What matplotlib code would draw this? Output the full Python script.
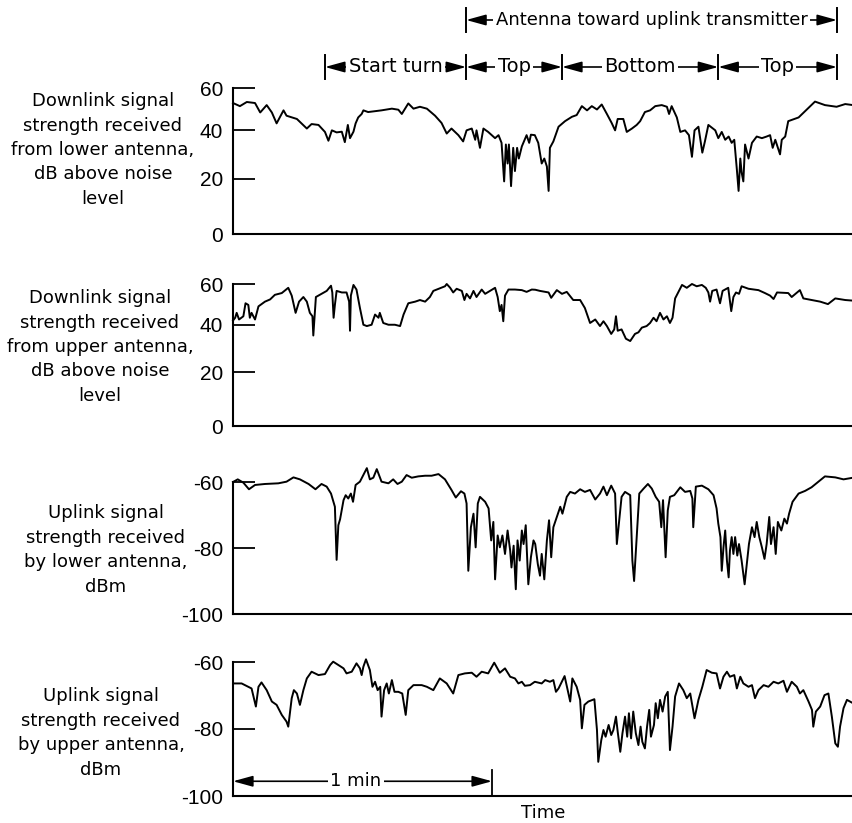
import numpy as np
import matplotlib
matplotlib.use('Agg')
import matplotlib.pyplot as plt
from matplotlib.transforms import blended_transform_factory

plt.rcParams['font.family'] = ['DejaVu Sans']

# ---------------- data (time in seconds, read from the record) ----------------
t_down_lower = [0.0, 1.6, 3.2, 5.1, 6.3, 7.8, 9.0, 10.1, 11.7, 12.4, 14.8, 17.1, 18.2, 19.8, 21.3, 22.1,
                22.9, 24.0, 25.2, 25.9, 26.6, 27.1, 27.9, 28.4, 29.0, 29.8, 30.2, 31.3, 34.4, 36.8, 38.3,
                39.1, 40.6, 41.8, 43.3, 44.9, 46.8, 48.3, 49.5, 50.6, 52.2, 53.3, 54.1, 55.3, 56.1, 56.4,
                57.2, 58.0, 59.1, 60.7, 61.5, 62.2, 62.8, 63.2, 63.6, 63.9, 64.4, 64.9, 65.3, 65.8, 66.2,
                66.9, 68.0, 68.6, 69.0, 69.9, 70.7, 71.5, 72.1, 72.7, 73.1, 73.4, 74.2, 75.4, 76.9, 78.5,
                79.6, 80.8, 82.0, 83.1, 84.3, 85.4, 86.6, 87.7, 88.5, 89.1, 90.4, 91.2, 92.4, 93.5, 94.3,
                95.4, 96.6, 97.8, 99.3, 100.5, 101.0, 101.6, 102.8, 103.6, 104.7, 105.6, 106.3, 106.9,
                107.8, 108.7, 109.3, 110.1, 111.7, 112.4, 113.2, 114.0, 114.8, 115.5, 116.1, 116.7, 117.1,
                117.5, 117.8, 118.2, 118.6, 119.4, 120.2, 121.3, 122.5, 123.6, 124.4, 125.0, 125.6, 126.7,
                127.1, 127.9, 128.6, 131.0, 134.8, 137.1, 139.8, 141.8, 143.6]
v_down_lower = [52.5, 51, 53, 52.5, 48, 51.5, 48, 43, 49, 46.5, 45, 40.7, 42.7, 42.3, 39.2, 35.4,
                39.9, 39, 39.3, 34.8, 42.3, 36.5, 39.3, 43, 45.7, 47.3, 49, 48.2, 49, 49.8, 49.3,
                47.3, 52.3, 49.8, 50.7, 49.8, 46.5, 43.2, 38.5, 40.7, 37.8, 35.1, 39.9, 40.7, 35.8, 39.9,
                32.4, 40.7, 39.2, 36.5, 37.8, 34.5, 19, 33.8, 26, 33.8, 17.2, 32.4, 23, 32.4, 28,
                33, 37.8, 34.5, 38, 37.8, 34.5, 26, 28, 24.8, 15.4, 32.4, 35.1, 41.5, 44, 46,
                46.8, 51, 49, 51, 49.4, 51.8, 47.3, 43.2, 39.9, 45, 45, 39.2, 40.7, 42.3, 44,
                48.2, 49, 51, 51.5, 50.7, 47.3, 51, 45.7, 39.2, 39.9, 37.8, 28.7, 39.9,
                41.5, 30.4, 35.1, 42.3, 39.9, 36.5, 39.2, 35.8, 37.2, 34.5, 35.8, 23.6, 15.4,
                28, 22.5, 19, 33.8, 28, 34.5, 37.2, 36.5, 37.2, 37.8, 32.4, 35.8, 29.7,
                35.8, 37.2, 44, 45.7, 53.2, 51.5, 50.7, 52, 51.5]

t_down_upper = [0.0, 0.5, 0.85, 1.4, 2.4, 2.9, 3.55, 3.9, 4.3, 5.1, 5.9, 7.4, 8.6, 9.7, 11.3, 12.8, 13.6,
                14.5, 15.3, 16.3, 17.1, 17.8, 18.4, 18.6, 19.2, 20.5, 21.7, 22.7, 23.0, 23.3, 23.6, 24.0,
                25.2, 26.3, 26.9, 27.1, 27.3, 27.9, 28.6, 29.4, 30.2, 31.0, 32.1, 32.9, 33.7, 34.0, 34.8,
                36.0, 37.5, 38.7, 39.5, 40.6, 42.2, 43.3, 44.5, 45.6, 46.4, 47.9, 49.1, 49.5, 50.3, 51.0,
                51.8, 53.0, 53.6, 54.1, 54.9, 55.7, 56.4, 57.6, 58.4, 59.5, 60.7, 61.3, 61.8, 62.2, 62.6,
                63.0, 63.8, 65.3, 66.9, 68.0, 69.2, 70.0, 71.1, 73.1, 73.7, 75.0, 76.2, 77.3, 78.8, 80.4,
                81.5, 82.7, 83.9, 85.0, 85.8, 86.6, 87.6, 88.3, 88.7, 89.1, 90.0, 91.0, 92.0, 93.1, 93.9,
                94.7, 95.8, 96.6, 97.4, 98.1, 98.9, 99.7, 100.5, 101.2, 101.8, 102.4, 104.0, 105.1, 106.3,
                107.4, 108.6, 109.5, 110.1, 110.5, 111.0, 112.0, 112.8, 113.4, 114.7, 115.4, 115.9, 116.5,
                117.2, 117.8, 119.4, 121.7, 123.2, 124.4, 125.2, 126.0, 128.6, 129.4, 131.3, 132.1, 134.0,
                136.0, 137.8, 139.5, 141.8, 143.6]
v_down_upper = [42, 43.3, 45.6, 42.5, 44, 50.2, 49.4, 43.3, 45.6, 42.5, 48.7, 51, 52.1, 54.4, 55.3, 58, 54,
                45.6, 51, 53.3, 51, 45.6, 44, 35.3, 53.3, 54.9, 56.4, 59.1, 55.6, 43.3, 49.4, 56.4,
                55.6, 55.6, 51, 37.4, 54, 59.5, 57.1, 47.9, 40.1, 39.5, 40.1, 44.8, 43.3, 45.6, 40.9,
                40.1, 40.1, 39.5, 44.8, 50.2, 51, 51.8, 51, 53.3, 56.4, 57.7, 58.8, 60, 58, 55.6,
                57.5, 56.4, 51.8, 54.9, 52.6, 56.4, 53.3, 57.1, 54.9, 56.4, 58, 53.3, 46.4, 49.4, 41.7,
                54, 57.1, 57.1, 56.8, 55.9, 57.1, 57, 56.4, 55.6, 52.9, 56.8, 54.9, 55.9, 51.8, 51.8,
                47.9, 40.9, 42.5, 39.5, 41.7, 39.5, 36, 38, 44, 37.4, 38, 33.9, 32.9, 36, 36.7,
                38.8, 39.5, 40.9, 43.3, 41.7, 45.6, 42.5, 44, 40.9, 43.3, 52.6, 59.5, 58, 60,
                58.8, 59.5, 58, 55.6, 51, 56.4, 57.1, 50.2, 56.4, 58, 46.4, 53.3, 55.6,
                54.9, 58.8, 57.5, 56.8, 55.3, 54, 52.3, 55.6, 55.3, 53.3, 56.8, 52.6, 51.8,
                51, 49.8, 52.6, 51.8, 51.5]

t_up_lower = [0.0, 1.1, 2.4, 3.7, 5.1, 7.4, 10.5, 12.4, 14.0, 15.5, 17.5, 19.1, 20.5, 21.7, 22.7, 23.6,
              24.0, 24.4, 24.8, 25.6, 26.1, 26.7, 27.3, 27.8, 28.4, 29.4, 30.4, 31.0, 31.7, 32.5, 33.3,
              34.4, 36.0, 37.1, 38.1, 39.1, 40.2, 41.4, 42.9, 44.5, 46.0, 47.6, 49.1, 50.6, 51.6, 52.8,
              53.6, 54.1, 54.5, 55.1, 55.7, 56.2, 56.7, 57.2, 58.4, 59.2, 59.8, 60.3, 60.7, 61.3, 61.8,
              62.4, 63.0, 63.6, 64.2, 64.5, 65.0, 65.5, 65.9, 66.4, 66.9, 67.3, 67.8, 68.4, 69.0, 69.6,
              70.0, 70.6, 71.1, 71.5, 72.1, 72.7, 73.2, 73.7, 74.2, 75.0, 75.8, 76.3, 77.3, 78.1, 79.2,
              80.4, 81.5, 82.7, 83.9, 85.0, 85.8, 86.6, 87.6, 88.5, 88.9, 89.3, 90.0, 90.8, 92.0, 92.5,
              92.9, 93.4, 94.1, 95.1, 96.1, 97.0, 97.9, 98.7, 99.2, 99.6, 100.2, 100.7, 101.2, 102.2,
              103.6, 104.7, 105.9, 106.4, 106.6, 107.2, 108.6, 110.1, 111.3, 112.0, 112.4, 112.9, 113.2,
              113.6, 114.0, 114.4, 114.8, 115.1, 115.5, 115.9, 116.3, 116.8, 117.2, 117.8, 118.5, 119.0,
              119.5, 120.2, 120.8, 121.3, 121.9, 122.5, 123.1, 123.6, 124.2, 124.6, 125.2, 125.7, 126.2,
              127.0, 127.7, 128.3, 128.8, 129.6, 131.0, 132.5, 134.0, 135.6, 137.1, 139.5, 141.4, 143.6]
v_up_lower = [-60.0, -59.2, -60.2, -62.2, -60.9, -60.6, -60.4, -59.9, -58.6, -59.2, -60.6, -62.2, -60.6,
              -61.4, -63.5, -67.5, -83.6, -73.1, -71.3, -65.5, -64.0, -65.0, -63.5, -66.0, -60.9, -59.9,
              -57.3, -55.8, -59.2, -58.7, -56.1, -59.9, -60.4, -59.2, -60.6, -59.9, -57.9, -58.7, -58.3,
              -58.1, -58.1, -57.6, -59.2, -62.4, -64.7, -62.8, -63.5, -66.5, -86.9, -73.7, -69.6, -79.8,
              -66.5, -64.5, -66.0, -68.0, -77.7, -72.1, -89.5, -76.2, -79.8, -76.2, -81.8, -74.7, -80.8,
              -85.9, -79.3, -92.5, -77.7, -83.8, -74.7, -78.8, -73.1, -91.0, -82.8, -77.7, -78.8, -84.9,
              -88.4, -81.8, -89.5, -77.7, -71.6, -82.8, -73.7, -70.6, -67.5, -69.6, -64.5, -63.0, -63.5,
              -62.2, -63.0, -62.4, -65.3, -63.5, -61.4, -64.0, -61.1, -63.5, -78.8, -73.7, -64.5, -63.0,
              -64.0, -83.8, -90.0, -78.8, -63.5, -62.0, -60.6, -62.0, -64.5, -66.0, -73.7, -65.5, -82.8,
              -68.6, -64.5, -64.0, -61.6, -63.0, -62.7, -65.0, -73.7, -61.4, -61.1, -62.2, -64.0, -68.0,
              -72.6, -76.7, -86.9, -79.8, -74.7, -83.8, -88.9, -80.8, -76.7, -81.8, -76.7, -82.3, -78.8,
              -83.8, -91.0, -84.9, -78.8, -73.7, -76.7, -72.1, -76.7, -79.8, -83.3, -78.8, -70.6, -78.8,
              -73.7, -81.8, -72.1, -74.7, -71.1, -72.6, -69.6, -66.0, -63.5, -62.7, -61.6, -59.9, -58.3,
              -58.6, -59.2, -58.7]

t_up_upper = [0.0, 2.0, 4.3, 5.3, 5.9, 6.6, 7.8, 9.0, 10.1, 11.3, 12.4, 12.8, 13.6, 14.1, 14.8, 15.5, 16.3,
              17.1, 18.2, 19.8, 21.3, 22.5, 23.2, 24.4, 25.6, 26.3, 27.5, 28.6, 29.4, 29.8, 30.2, 30.8,
              31.7, 32.3, 32.9, 33.5, 34.1, 34.4, 35.0, 35.6, 36.1, 36.8, 37.4, 38.3, 39.2, 40.0, 40.6,
              41.8, 43.7, 44.9, 46.4, 47.9, 49.5, 51.0, 52.2, 53.7, 55.3, 56.4, 57.6, 59.1, 60.5, 61.8,
              63.0, 64.2, 65.3, 66.1, 66.9, 67.6, 68.8, 69.9, 71.5, 72.3, 73.4, 74.2, 74.8, 75.4, 76.8,
              77.7, 78.1, 78.6, 79.6, 80.4, 80.8, 81.4, 82.3, 83.7, 84.3, 84.6, 85.3, 85.8, 86.3, 87.0,
              87.6, 88.1, 88.7, 89.1, 89.7, 90.2, 90.8, 91.3, 91.7, 92.2, 92.7, 93.3, 93.9, 94.4, 94.8,
              95.4, 95.9, 96.4, 96.8, 97.5, 97.9, 98.4, 98.9, 99.5, 100.1, 100.7, 101.2, 101.8, 102.4,
              103.3, 104.3, 105.1, 105.9, 106.9, 107.8, 108.7, 109.7, 110.9, 112.0, 112.8, 113.6, 114.4,
              115.1, 116.1, 116.7, 117.5, 118.2, 119.4, 120.2, 120.9, 121.7, 122.9, 124.0, 125.2, 126.3,
              127.5, 128.3, 129.4, 130.6, 131.3, 132.1, 133.3, 134.1, 134.4, 135.0, 136.0, 137.0, 137.9,
              138.7, 139.5, 140.1, 140.6, 141.4, 142.2, 143.6]
v_up_upper = [-66.4, -66.4, -67.9, -73.3, -67.4, -66.1, -68.4, -71.8, -72.8, -75.8, -77.8, -79.3, -70.8,
              -68.4, -69.4, -72.8, -68.4, -64.9, -62.9, -63.9, -63.6, -60.9, -59.9, -60.9, -61.9, -63.4,
              -62.9, -60.4, -61.9, -63.9, -61.4, -59.2, -62.4, -67.4, -65.9, -68.4, -67.4, -76.3, -68.4,
              -66.4, -69.4, -65.4, -68.9, -68.9, -69.4, -75.8, -68.4, -66.9, -66.9, -67.4, -68.4, -64.9,
              -66.4, -69.4, -63.9, -63.4, -63.2, -64.4, -62.9, -63.4, -60.2, -63.2, -61.9, -64.4, -64.9,
              -66.4, -65.9, -67.1, -66.9, -65.9, -66.4, -65.4, -65.9, -65.4, -68.9, -67.9, -64.2, -69.4,
              -71.8, -64.9, -67.4, -71.3, -79.8, -72.8, -71.8, -71.1, -80.3, -89.8, -83.3, -80.3, -82.3,
              -78.8, -81.8, -80.3, -76.3, -80.8, -86.8, -81.3, -76.3, -82.3, -75.3, -82.8, -74.8, -81.3,
              -84.8, -79.3, -83.8, -85.8, -79.3, -74.3, -82.3, -78.8, -72.3, -76.8, -71.3, -74.8, -70.3,
              -68.9, -86.3, -79.3, -70.3, -66.4, -68.4, -70.8, -69.4, -76.8, -71.3, -67.4, -62.4, -63.2,
              -63.4, -67.9, -64.4, -62.9, -64.4, -63.9, -67.9, -64.4, -66.4, -67.4, -66.9, -70.8, -68.4,
              -66.9, -67.4, -65.9, -66.4, -65.6, -68.9, -65.9, -67.4, -69.4, -68.4, -71.8, -74.3, -79.3,
              -74.8, -73.3, -69.9, -69.4, -76.3, -84.3, -85.3, -79.3, -73.8, -71.3, -72.3]

series = [(t_down_lower, v_down_lower), (t_down_upper, v_down_upper),
          (t_up_lower, v_up_lower), (t_up_upper, v_up_upper)]

panel_labels = [
    "Downlink signal\nstrength received\nfrom lower antenna,\ndB above noise\nlevel",
    "Downlink signal\nstrength received\nfrom upper antenna,\ndB above noise\nlevel",
    "Uplink signal\nstrength received\nby lower antenna,\ndBm",
    "Uplink signal\nstrength received\nby upper antenna,\ndBm",
]
panel_ticks = [[0, 20, 40, 60], [0, 20, 40, 60], [-100, -80, -60], [-100, -80, -60]]

phase_edges = [21.3, 54.0, 76.2, 112.4, 139.9]
phase_labels = ["Start turn", "Top", "Bottom", "Top"]
antenna_span = (54.0, 139.9)
antenna_label = "Antenna toward uplink transmitter"
minute_span = (0.0, 60.0)
T_END = 143.6

# ---------------- layout ----------------
W_PX, H_PX = 853, 823
fig = plt.figure(figsize=(W_PX / 100, H_PX / 100), dpi=100)
left = 233 / W_PX
panel_px = [(234, 88), (426, 284), (614, 482), (796, 662)]   # (bottom, top) pixel rows
label_center = [(103, 150), (100, 347), (106, 550), (101, 733)]

C = 0.0028
def fwd(v):
    v = np.asarray(v, dtype=float)
    return v - C * v * v
def inv(p):
    p = np.asarray(p, dtype=float)
    return (1 - np.sqrt(np.maximum(1 - 4 * C * p, 0))) / (2 * C)

TICK_FONT = dict(family='Liberation Sans', size=15)

axes = []
for i, ((b, t), (tt, vv)) in enumerate(zip(panel_px, series)):
    ax = fig.add_axes([left, 1 - b / H_PX, 1 - left, (b - t) / H_PX])
    if i < 2:
        ax.set_yscale('function', functions=(fwd, inv))
    ax.plot(tt, vv, color='black', lw=1.4, clip_on=False, solid_joinstyle='round')
    ticks = panel_ticks[i]
    ax.set_ylim(ticks[0], ticks[-1])
    ax.set_yticks(ticks)
    ax.set_yticklabels([str(v) for v in ticks], fontdict=TICK_FONT)
    ax.yaxis.set_minor_locator(matplotlib.ticker.NullLocator())
    ax.set_xlim(0, T_END)
    ax.set_xticks([])
    for s in ('top', 'right'):
        ax.spines[s].set_visible(False)
    for s in ('left', 'bottom'):
        ax.spines[s].set_linewidth(1.5)
    ax.tick_params(axis='y', direction='in', length=16, width=1.3, pad=7)
    ax.patch.set_alpha(0)
    cx, cy = label_center[i]
    fig.text(cx / W_PX, 1 - cy / H_PX, panel_labels[i], ha='center', va='center',
             multialignment='center', fontsize=13, linespacing=1.46)
    axes.append(ax)

ax1 = axes[0]
blend = blended_transform_factory(ax1.transData, fig.transFigure)
ARROW = dict(arrowstyle='<|-|>,head_length=0.8,head_width=0.22', color='black', lw=1.2,
             mutation_scale=15, shrinkA=0, shrinkB=0)

def span_arrow(ax, x0, x1, y, text, coords, size, text_x=None):
    ax.annotate('', xy=(x1, y), xytext=(x0, y), xycoords=coords, textcoords=coords,
                annotation_clip=False, arrowprops=ARROW)
    tx = (x0 + x1) / 2 if text_x is None else text_x
    ax.annotate(text, xy=(tx, y), xycoords=coords, ha='center', va='center',
                fontsize=size, annotation_clip=False,
                bbox=dict(boxstyle='square,pad=0.12', fc='white', ec='none'))

row1 = 1 - 20 / H_PX
row2 = 1 - 67 / H_PX
bh = 12 / H_PX
span_arrow(ax1, antenna_span[0], antenna_span[1], row1, antenna_label, ('data', 'figure fraction'), 13)
for x in antenna_span:
    ax1.plot([x, x], [row1 - bh, row1 + bh], color='black', lw=1.4, transform=blend, clip_on=False)
for k, lab in enumerate(phase_labels):
    span_arrow(ax1, phase_edges[k], phase_edges[k + 1], row2, lab, ('data', 'figure fraction'), 14)
for x in phase_edges:
    ax1.plot([x, x], [row2 - bh, row2 + bh], color='black', lw=1.4, transform=blend, clip_on=False)

# 1 min marker
ax4 = axes[3]
span_arrow(ax4, minute_span[0], minute_span[1], -95.6, "1 min", 'data', 13, text_x=28.5)
ax4.plot([minute_span[1], minute_span[1]], [-92.2, -100], color='black', lw=1.3, clip_on=False)
ax4.set_xlabel('Time', fontsize=13, labelpad=6)

fig.savefig('out.png', dpi=100)
